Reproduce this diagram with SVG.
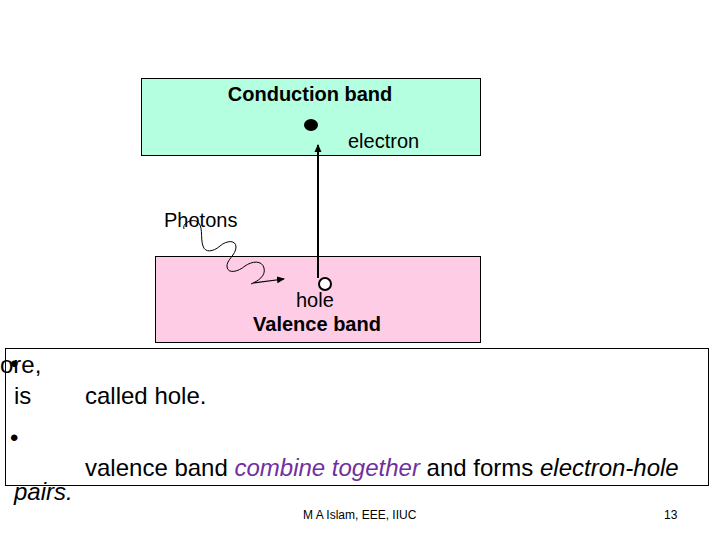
<svg xmlns="http://www.w3.org/2000/svg" width="720" height="540" viewBox="0 0 720 540">
<style>
text{font-family:"Liberation Sans",Arial,sans-serif;fill:#000}
.b{font-weight:bold;font-size:20px}
.r{font-size:20px}
.t{font-size:24px}
.s{font-size:12px}
.band{stroke:#000;stroke-width:1}
</style>
<defs>
<marker id="ah" markerWidth="8" markerHeight="8" refX="7" refY="4" orient="auto" markerUnits="userSpaceOnUse">
<path d="M0,0.5 L8,4 L0,7.5 Z" fill="#000"/>
</marker>
</defs>
<rect width="720" height="540" fill="#fff"/>
<g id="conduction">
<rect class="band" x="141.5" y="78.5" width="339" height="77" fill="#b3ffe0"/>
<text class="b" x="310" y="101" text-anchor="middle">Conduction band</text>
<ellipse cx="311" cy="125" rx="7" ry="6" fill="#000"/>
<text class="r" x="348" y="148">electron</text>
</g>
<g id="valence">
<rect class="band" x="155.5" y="256.5" width="325" height="86" fill="#ffcce6"/>
<circle cx="325" cy="284" r="6" fill="#fff" stroke="#000" stroke-width="2"/>
<text class="r" x="296" y="307">hole</text>
<text class="b" x="317" y="331" text-anchor="middle">Valence band</text>
</g>
<g id="photons">
<text class="r" x="164" y="227">Photons</text>
</g>
<g id="connectors" fill="none" stroke="#000">
<path d="M318,278 L318,145" stroke-width="2" marker-end="url(#ah)"/>
<path d="M184,229 C182,224 190,219 196,221 C204,224 200,238 203,246 C205,253 213,252 220,246 C227,240 236,240 236,247 C236,255 226,260 227,267 C228,274 238,272 245,266 C252,261 262,260 264,268 C266,276 258,281 251,284" stroke-width="1"/>
<path d="M253,283 L284,279" stroke-width="1.2" marker-end="url(#ah)"/>
</g>
<g id="textbox">
<rect x="5.5" y="348.5" width="703" height="137" fill="none" stroke="#000" stroke-width="1"/>
<text class="t" x="0" y="373">ore,</text>
<text class="t" x="10" y="372">•</text>
<text class="t" x="14" y="404">is</text>
<text class="t" x="85" y="404">called hole.</text>
<text class="t" x="10" y="446">•</text>
<text class="t" x="85" y="476">valence band <tspan fill="#7030a0" font-style="italic">combine together</tspan> and forms <tspan font-style="italic">electron-hole</tspan></text>
<text class="t" x="14" y="500" font-style="italic">pairs.</text>
</g>
<g id="footer">
<text class="s" x="303" y="519">M A Islam, EEE, IIUC</text>
<text class="s" x="664" y="519">13</text>
</g>
</svg>
